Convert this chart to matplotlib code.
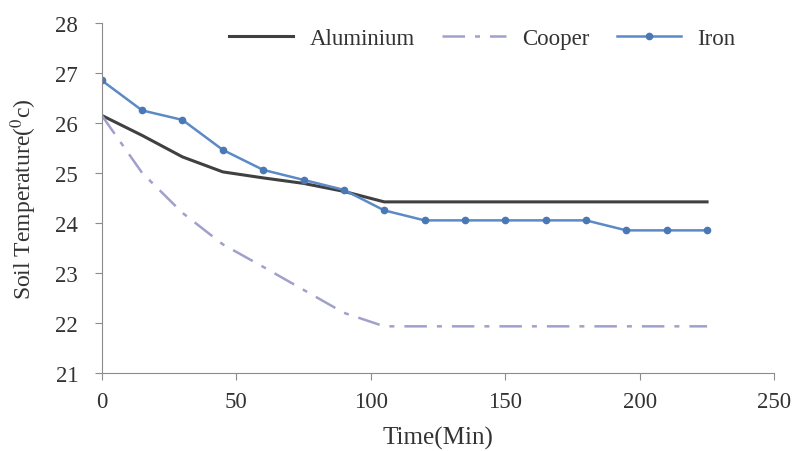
import matplotlib
matplotlib.use("Agg")
import matplotlib.pyplot as plt

plt.rcParams["font.family"] = ["Liberation Serif", "DejaVu Serif"]
plt.rcParams["mathtext.fontset"] = "stix"

time_min = [0, 15, 30, 45, 60, 75, 90, 105, 120, 135, 150, 165, 180, 195, 210, 225]
aluminium = [26.15, 25.75, 25.32, 25.02, 24.9, 24.79, 24.63, 24.42, 24.42, 24.42,
             24.42, 24.42, 24.42, 24.42, 24.42, 24.42]
cooper = [26.15, 25.0, 24.2, 23.57, 23.12, 22.66, 22.2, 21.93, 21.93, 21.93,
          21.93, 21.93, 21.93, 21.93, 21.93, 21.93]
iron = [26.85, 26.25, 26.06, 25.46, 25.06, 24.86, 24.66, 24.25, 24.05, 24.05,
        24.05, 24.05, 24.05, 23.85, 23.85, 23.85]

fig = plt.figure(figsize=(7.95, 4.52), dpi=100)
ax = fig.add_axes([0.128, 0.173, 0.846, 0.774])

ax.plot(time_min, aluminium, color="#404040", lw=2.2, label="Aluminium")
ax.plot(time_min, cooper, color="#a0a0cc", lw=1.8, dashes=(9, 4, 2, 4),
        label="Cooper")
ax.plot(time_min, iron, color="#5b8ac6", lw=1.8, marker="o", markersize=4.5,
        markerfacecolor="#4a78b5", markeredgecolor="#4a78b5", label="Iron")

ax.set_xlim(0, 250)
ax.set_ylim(21, 28)
ax.set_xticks([0, 50, 100, 150, 200, 250])
ax.set_yticks(range(21, 29))

for side in ["top", "right"]:
    ax.spines[side].set_visible(False)
for side in ["left", "bottom"]:
    ax.spines[side].set_color("#8c8c8c")
ax.tick_params(axis="both", colors="#8c8c8c", labelcolor="#333333",
               labelsize=16.5, length=5, direction="out")
ax.tick_params(axis="y", pad=12)
ax.tick_params(axis="x", pad=8)

ax.set_xlabel("Time(Min)", fontsize=18, color="#333333", labelpad=10)
ax.set_ylabel("Soil Temperature($^{0}$c)", fontsize=17, color="#333333",
              labelpad=12)

ax.legend(loc="upper center", bbox_to_anchor=(0.566, 1.045), ncol=3,
          frameon=False, fontsize=16.5, handlelength=2.8, handletextpad=0.7,
          columnspacing=1.2, labelcolor="#333333")

plt.savefig("out.png", dpi=100)
plt.close()
